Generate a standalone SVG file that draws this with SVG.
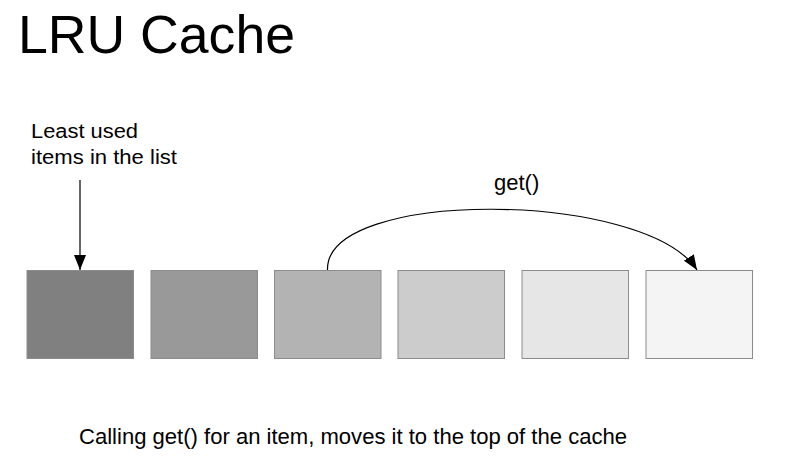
<svg xmlns="http://www.w3.org/2000/svg" width="808" height="468" viewBox="0 0 808 468">
<style>
text { font-family: "Liberation Sans", Arial, sans-serif; fill: #000; }
.box { stroke: #8c8c8c; stroke-width: 1; }
.conn { fill: none; stroke: #000; stroke-width: 1.2; }
</style>
<defs>
<marker id="arr" markerUnits="userSpaceOnUse" markerWidth="16" markerHeight="12" viewBox="0 0 16 12" refX="15" refY="6" orient="auto">
<path d="M0,0 L15,6 L0,12 Z" fill="#000"/>
</marker>
</defs>
<rect width="808" height="468" fill="#fff"/>
<text x="18" y="52.5" font-size="53" textLength="277" lengthAdjust="spacingAndGlyphs">LRU Cache</text>
<g id="label-least">
<text x="31" y="138" font-size="20" textLength="107" lengthAdjust="spacingAndGlyphs">Least used</text>
<text x="31" y="163.5" font-size="20" textLength="146" lengthAdjust="spacingAndGlyphs">items in the list</text>
</g>
<g id="label-get"><text x="494" y="190" font-size="22">get()</text></g>
<g id="item1"><rect class="box" x="27" y="270.5" width="106.5" height="88" fill="#808080" stroke="#808080"/></g>
<g id="item2"><rect class="box" x="151" y="270.5" width="106.5" height="88" fill="#999999"/></g>
<g id="item3"><rect class="box" x="274.5" y="270.5" width="106.5" height="88" fill="#b3b3b3"/></g>
<g id="item4"><rect class="box" x="398" y="270.5" width="106.5" height="88" fill="#cccccc"/></g>
<g id="item5"><rect class="box" x="522" y="270.5" width="106.5" height="88" fill="#e6e6e6"/></g>
<g id="item6"><rect class="box" x="646" y="270.5" width="106.5" height="88" fill="#f4f4f4"/></g>
<g id="connectors">
<line class="conn" x1="80" y1="180" x2="80" y2="270" marker-end="url(#arr)"/>
<path class="conn" d="M327.5,270 C325,188 645,190 697,270" marker-end="url(#arr)"/>
</g>
<g id="caption"><text x="79" y="444" font-size="22" textLength="548" lengthAdjust="spacingAndGlyphs">Calling get() for an item, moves it to the top of the cache</text></g>
</svg>
